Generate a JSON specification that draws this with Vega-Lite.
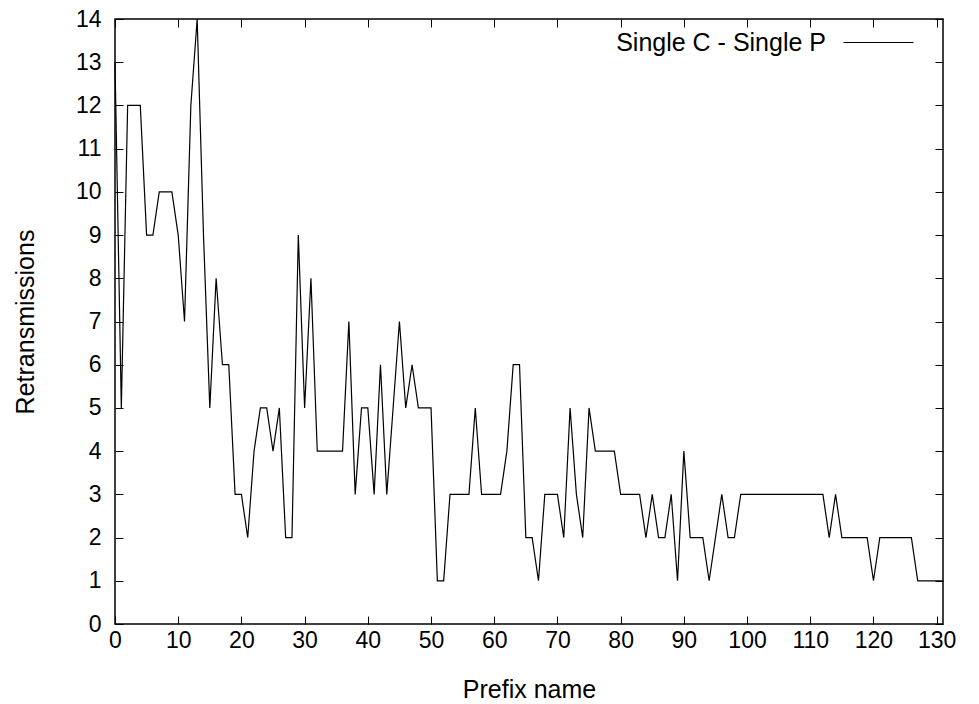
{
  "$schema": "https://vega.github.io/schema/vega-lite/v6.json",
  "width": 828,
  "height": 605,
  "autosize": "none",
  "padding": {"left": 115, "top": 19, "right": 36, "bottom": 80},
  "background": "white",
  "config": {
    "font": "Liberation Sans",
    "view": {"stroke": "black", "strokeWidth": 1.5},
    "axis": {
      "domain": false,
      "grid": false,
      "tickColor": "black",
      "tickWidth": 1,
      "tickSize": -8,
      "labelColor": "black",
      "labelFontSize": 23,
      "labelFont": "Liberation Sans",
      "titleColor": "black",
      "titleFontSize": 25,
      "titleFont": "Liberation Sans",
      "titleFontWeight": "normal",
      "labelFlush": false,
      "labelOverlap": false
    }
  },
  "data": {
    "values": [
      {"x": 0, "Single C - Single P": 13}, {"x": 1, "Single C - Single P": 5}, {"x": 2, "Single C - Single P": 12},
      {"x": 3, "Single C - Single P": 12}, {"x": 4, "Single C - Single P": 12}, {"x": 5, "Single C - Single P": 9},
      {"x": 6, "Single C - Single P": 9}, {"x": 7, "Single C - Single P": 10}, {"x": 8, "Single C - Single P": 10},
      {"x": 9, "Single C - Single P": 10}, {"x": 10, "Single C - Single P": 9}, {"x": 11, "Single C - Single P": 7},
      {"x": 12, "Single C - Single P": 12}, {"x": 13, "Single C - Single P": 14}, {"x": 14, "Single C - Single P": 9},
      {"x": 15, "Single C - Single P": 5}, {"x": 16, "Single C - Single P": 8}, {"x": 17, "Single C - Single P": 6},
      {"x": 18, "Single C - Single P": 6}, {"x": 19, "Single C - Single P": 3}, {"x": 20, "Single C - Single P": 3},
      {"x": 21, "Single C - Single P": 2}, {"x": 22, "Single C - Single P": 4}, {"x": 23, "Single C - Single P": 5},
      {"x": 24, "Single C - Single P": 5}, {"x": 25, "Single C - Single P": 4}, {"x": 26, "Single C - Single P": 5},
      {"x": 27, "Single C - Single P": 2}, {"x": 28, "Single C - Single P": 2}, {"x": 29, "Single C - Single P": 9},
      {"x": 30, "Single C - Single P": 5}, {"x": 31, "Single C - Single P": 8}, {"x": 32, "Single C - Single P": 4},
      {"x": 33, "Single C - Single P": 4}, {"x": 34, "Single C - Single P": 4}, {"x": 35, "Single C - Single P": 4},
      {"x": 36, "Single C - Single P": 4}, {"x": 37, "Single C - Single P": 7}, {"x": 38, "Single C - Single P": 3},
      {"x": 39, "Single C - Single P": 5}, {"x": 40, "Single C - Single P": 5}, {"x": 41, "Single C - Single P": 3},
      {"x": 42, "Single C - Single P": 6}, {"x": 43, "Single C - Single P": 3}, {"x": 44, "Single C - Single P": 5},
      {"x": 45, "Single C - Single P": 7}, {"x": 46, "Single C - Single P": 5}, {"x": 47, "Single C - Single P": 6},
      {"x": 48, "Single C - Single P": 5}, {"x": 49, "Single C - Single P": 5}, {"x": 50, "Single C - Single P": 5},
      {"x": 51, "Single C - Single P": 1}, {"x": 52, "Single C - Single P": 1}, {"x": 53, "Single C - Single P": 3},
      {"x": 54, "Single C - Single P": 3}, {"x": 55, "Single C - Single P": 3}, {"x": 56, "Single C - Single P": 3},
      {"x": 57, "Single C - Single P": 5}, {"x": 58, "Single C - Single P": 3}, {"x": 59, "Single C - Single P": 3},
      {"x": 60, "Single C - Single P": 3}, {"x": 61, "Single C - Single P": 3}, {"x": 62, "Single C - Single P": 4},
      {"x": 63, "Single C - Single P": 6}, {"x": 64, "Single C - Single P": 6}, {"x": 65, "Single C - Single P": 2},
      {"x": 66, "Single C - Single P": 2}, {"x": 67, "Single C - Single P": 1}, {"x": 68, "Single C - Single P": 3},
      {"x": 69, "Single C - Single P": 3}, {"x": 70, "Single C - Single P": 3}, {"x": 71, "Single C - Single P": 2},
      {"x": 72, "Single C - Single P": 5}, {"x": 73, "Single C - Single P": 3}, {"x": 74, "Single C - Single P": 2},
      {"x": 75, "Single C - Single P": 5}, {"x": 76, "Single C - Single P": 4}, {"x": 77, "Single C - Single P": 4},
      {"x": 78, "Single C - Single P": 4}, {"x": 79, "Single C - Single P": 4}, {"x": 80, "Single C - Single P": 3},
      {"x": 81, "Single C - Single P": 3}, {"x": 82, "Single C - Single P": 3}, {"x": 83, "Single C - Single P": 3},
      {"x": 84, "Single C - Single P": 2}, {"x": 85, "Single C - Single P": 3}, {"x": 86, "Single C - Single P": 2},
      {"x": 87, "Single C - Single P": 2}, {"x": 88, "Single C - Single P": 3}, {"x": 89, "Single C - Single P": 1},
      {"x": 90, "Single C - Single P": 4}, {"x": 91, "Single C - Single P": 2}, {"x": 92, "Single C - Single P": 2},
      {"x": 93, "Single C - Single P": 2}, {"x": 94, "Single C - Single P": 1}, {"x": 95, "Single C - Single P": 2},
      {"x": 96, "Single C - Single P": 3}, {"x": 97, "Single C - Single P": 2}, {"x": 98, "Single C - Single P": 2},
      {"x": 99, "Single C - Single P": 3}, {"x": 100, "Single C - Single P": 3}, {"x": 101, "Single C - Single P": 3},
      {"x": 102, "Single C - Single P": 3}, {"x": 103, "Single C - Single P": 3}, {"x": 104, "Single C - Single P": 3},
      {"x": 105, "Single C - Single P": 3}, {"x": 106, "Single C - Single P": 3}, {"x": 107, "Single C - Single P": 3},
      {"x": 108, "Single C - Single P": 3}, {"x": 109, "Single C - Single P": 3}, {"x": 110, "Single C - Single P": 3},
      {"x": 111, "Single C - Single P": 3}, {"x": 112, "Single C - Single P": 3}, {"x": 113, "Single C - Single P": 2},
      {"x": 114, "Single C - Single P": 3}, {"x": 115, "Single C - Single P": 2}, {"x": 116, "Single C - Single P": 2},
      {"x": 117, "Single C - Single P": 2}, {"x": 118, "Single C - Single P": 2}, {"x": 119, "Single C - Single P": 2},
      {"x": 120, "Single C - Single P": 1}, {"x": 121, "Single C - Single P": 2}, {"x": 122, "Single C - Single P": 2},
      {"x": 123, "Single C - Single P": 2}, {"x": 124, "Single C - Single P": 2}, {"x": 125, "Single C - Single P": 2},
      {"x": 126, "Single C - Single P": 2}, {"x": 127, "Single C - Single P": 1}, {"x": 128, "Single C - Single P": 1},
      {"x": 129, "Single C - Single P": 1}, {"x": 130, "Single C - Single P": 1}, {"x": 131, "Single C - Single P": 1}
    ]
  },
  "transform": [{"fold": ["Single C - Single P"], "as": ["series", "retx"]}],
  "layer": [
    {
      "mark": {"type": "line", "strokeWidth": 1.2, "interpolate": "linear"},
      "encoding": {
        "x": {
          "field": "x", "type": "quantitative",
          "scale": {"domain": [0, 131], "nice": false, "zero": false},
          "axis": {"orient": "bottom", "title": "Prefix name", "values": [0,10,20,30,40,50,60,70,80,90,100,110,120,130], "labelPadding": 13, "titlePadding": 25}
        },
        "y": {
          "field": "retx", "type": "quantitative",
          "scale": {"domain": [0, 14], "nice": false},
          "axis": {"orient": "left", "title": "Retransmissions", "values": [0,1,2,3,4,5,6,7,8,9,10,11,12,13,14], "labelPadding": 22, "titlePadding": 37}
        },
        "color": {
          "field": "series", "type": "nominal",
          "scale": {"range": ["black"]},
          "legend": {
            "orient": "none", "legendX": 751, "legendY": 11,
            "title": null, "padding": 0,
            "symbolType": "M-5,0H5", "symbolSize": 196, "symbolStrokeWidth": 1.2,
            "labelAlign": "right", "labelOffset": -65, "labelLimit": 500,
            "labelFontSize": 25, "labelColor": "black", "labelFont": "Liberation Sans"
          }
        }
      }
    },
    {
      "mark": {"type": "line", "opacity": 0},
      "encoding": {
        "x": {
          "field": "x", "type": "quantitative",
          "axis": {"orient": "top", "title": null, "labels": false, "values": [0,10,20,30,40,50,60,70,80,90,100,110,120,130]}
        },
        "y": {
          "field": "retx", "type": "quantitative",
          "axis": {"orient": "right", "title": null, "labels": false, "values": [0,1,2,3,4,5,6,7,8,9,10,11,12,13,14]}
        }
      }
    }
  ],
  "resolve": {"axis": {"x": "independent", "y": "independent"}}
}
